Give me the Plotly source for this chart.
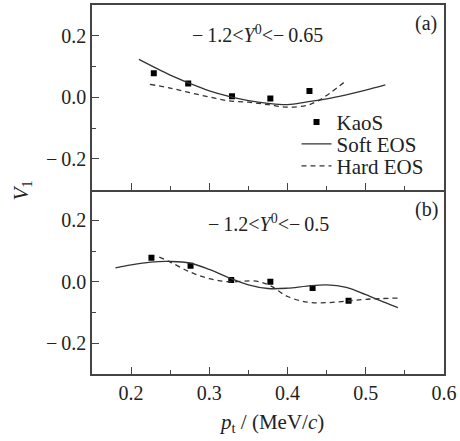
import plotly.graph_objects as go

# ---- data ----
# Panel (a): -1.2 < Y0 < -0.65
kaos_a_x = [0.229, 0.273, 0.329, 0.378, 0.428]
kaos_a_y = [0.078, 0.045, 0.003, -0.004, 0.020]
soft_a_x = [0.21, 0.25, 0.275, 0.30, 0.325, 0.35, 0.375, 0.40, 0.425, 0.45, 0.475, 0.50, 0.525]
soft_a_y = [0.123, 0.072, 0.045, 0.021, 0.003, -0.011, -0.020, -0.024, -0.015, -0.005, 0.008, 0.023, 0.040]
hard_a_x = [0.224, 0.25, 0.275, 0.30, 0.325, 0.35, 0.375, 0.40, 0.425, 0.44, 0.455, 0.474]
hard_a_y = [0.042, 0.030, 0.015, 0.001, -0.012, -0.016, -0.024, -0.032, -0.026, -0.010, 0.015, 0.052]

# Panel (b): -1.2 < Y0 < -0.5
kaos_b_x = [0.226, 0.276, 0.328, 0.378, 0.432, 0.478]
kaos_b_y = [0.078, 0.052, 0.006, 0.000, -0.020, -0.062]
soft_b_x = [0.18, 0.20, 0.225, 0.25, 0.275, 0.30, 0.325, 0.35, 0.375, 0.40, 0.425, 0.45, 0.475, 0.50, 0.525, 0.541]
soft_b_y = [0.045, 0.055, 0.064, 0.066, 0.061, 0.040, 0.013, -0.010, -0.022, -0.021, -0.014, -0.010, -0.018, -0.042, -0.068, -0.084]
hard_b_x = [0.236, 0.25, 0.275, 0.30, 0.325, 0.36, 0.378, 0.40, 0.425, 0.45, 0.475, 0.50, 0.541]
hard_b_y = [0.080, 0.064, 0.032, 0.010, 0.000, 0.002, -0.013, -0.048, -0.066, -0.068, -0.063, -0.057, -0.053]

x_tickvals = [0.2, 0.3, 0.4, 0.5, 0.6]
x_ticktext = ["0.2", "0.3", "0.4", "0.5", "0.6"]
y_tickvals = [-0.2, 0.0, 0.2]
y_ticktext = ["\u2212\u20090.2", "0.0", "0.2"]

label_a = "\u2212\u20091.2&lt;<i>Y</i><sup>0</sup>&lt;\u2212\u20090.65"
label_b = "\u2212\u20091.2&lt;<i>Y</i><sup>0</sup>&lt;\u2212\u20090.5"

FONT = "Liberation Serif, Times New Roman, serif"
AX = "#444444"
LINE = "#333333"
TXT = "#222222"

fig = go.Figure()

legend_ids = ["legend", "legend2", "legend3"]

def add_panel(kx, ky, sx, sy, hx, hy, xa, ya, show):
    fig.add_trace(go.Scatter(x=kx, y=ky, mode="markers", name="KaoS",
                             marker=dict(symbol="square", size=6, color="black"),
                             xaxis=xa, yaxis=ya, showlegend=show, legend=legend_ids[0]))
    fig.add_trace(go.Scatter(x=sx, y=sy, mode="lines", name="Soft EOS",
                             line=dict(color=LINE, width=1.3, shape="spline"),
                             xaxis=xa, yaxis=ya, showlegend=show, legend=legend_ids[1]))
    fig.add_trace(go.Scatter(x=hx, y=hy, mode="lines", name="Hard EOS",
                             line=dict(color=LINE, width=1.3, dash="5px,4px", shape="spline"),
                             xaxis=xa, yaxis=ya, showlegend=show, legend=legend_ids[2]))

add_panel(kaos_a_x, kaos_a_y, soft_a_x, soft_a_y, hard_a_x, hard_a_y, "x2", "y2", True)
add_panel(kaos_b_x, kaos_b_y, soft_b_x, soft_b_y, hard_b_x, hard_b_y, "x", "y", False)

xcommon = dict(range=[0.15, 0.6], showline=True, linecolor=AX, linewidth=1.5,
               ticks="inside", ticklen=7, tickwidth=1.3, tickcolor=AX,
               tickvals=x_tickvals, showgrid=False, zeroline=False,
               minor=dict(ticks="inside", ticklen=4, tickwidth=1.3, tickcolor=AX,
                          tickvals=[0.25, 0.35, 0.45, 0.55], showgrid=False))
ycommon = dict(range=[-0.3, 0.3], showline=True, linecolor=AX, linewidth=1.5, mirror=True,
               ticks="inside", ticklen=7, tickwidth=1.3, tickcolor=AX,
               tickvals=y_tickvals, ticktext=y_ticktext, showgrid=False, zeroline=False,
               tickfont=dict(family=FONT, size=20, color=TXT),
               minor=dict(ticks="inside", ticklen=4, tickwidth=1.3, tickcolor=AX,
                          tickvals=[-0.1, 0.1], showgrid=False))

leg = dict(xanchor="left", yanchor="middle", x=0.581, bgcolor="rgba(0,0,0,0)",
           font=dict(family=FONT, size=21, color=TXT), itemwidth=30,
           borderwidth=0)

fig.update_layout(
    width=460, height=441,
    margin=dict(l=92, r=15, t=3, b=67),
    paper_bgcolor="white", plot_bgcolor="white",
    font=dict(family=FONT, size=20, color=TXT),
    xaxis=dict(xcommon, anchor="y", mirror=False, ticktext=x_ticktext,
               tickfont=dict(family=FONT, size=20, color=TXT)),
    xaxis2=dict(xcommon, anchor="y2", mirror=True, matches="x", showticklabels=False),
    yaxis=dict(ycommon, domain=[0, 0.5], anchor="x"),
    yaxis2=dict(ycommon, domain=[0.5, 1], anchor="x2"),
    legend=dict(leg, y=(374 - 121) / 371),
    legend2=dict(leg, y=(374 - 143) / 371),
    legend3=dict(leg, y=(374 - 165) / 371),
    showlegend=True,
)

annots = [
    dict(x=0.47, y=0.922, text=label_a),
    dict(x=0.50, y=0.41, text=label_b),
    dict(x=0.949, y=0.949, text="(a)"),
    dict(x=0.949, y=0.447, text="(b)"),
    dict(x=0.51, y=-0.132, text="<i>p</i><sub>t</sub> / (MeV/<i>c</i>)", font=dict(size=21)),
    dict(x=-0.2, y=0.496, text="<i>V</i><sub>1</sub>", textangle=-90, font=dict(size=21)),
]
for a in annots:
    f = dict(family=FONT, size=20, color=TXT)
    f.update(a.pop("font", {}))
    fig.add_annotation(xref="paper", yref="paper", showarrow=False,
                       xanchor="center", yanchor="middle", font=f, **a)

fig.write_html("out.html")
